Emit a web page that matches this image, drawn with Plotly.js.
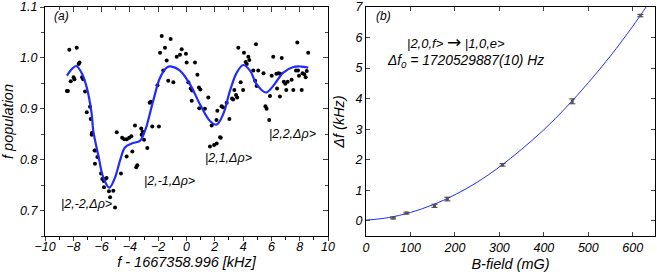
<!DOCTYPE html>
<html>
<head>
<meta charset="utf-8">
<script src="https://cdn.plot.ly/plotly-3.0.1.min.js"></script>
<style>html,body{margin:0;padding:0;background:#fff;}#chart{width:657px;height:272px;}</style>
</head>
<body>
<div id="chart"></div>
<script>
// Panel (a): measured population vs detuning
const freqX = [-8.45,-8.38,-8.28,-8.18,-7.98,-7.92,-7.76,-7.62,-7.56,-7.38,-7.3,-7.17,-7.05,-6.82,-6.77,-6.68,-6.70,-6.50,-6.43,-6.47,-6.30,-6.04,-5.95,-5.85,-5.75,-5.65,-5.83,-5.48,-5.40,-5.17,-5.05,-4.93,-4.63,-4.55,-4.40,-4.22,-4.05,-3.90,-4.23,-3.83,-3.55,-3.48,-3.64,-3.20,-3.17,-3.00,-2.77,-2.60,-2.52,-2.42,-1.95,-2.05,-1.87,-1.75,-1.52,-1.64,-1.40,-1.12,-1.29,-0.93,-0.69,-0.46,-0.34,-0.04,0.01,0.13,0.30,0.40,0.37,0.60,0.77,0.88,0.98,0.90,1.30,1.54,1.78,2.18,2.12,2.37,2.48,2.58,2.84,3.03,3.22,3.30,3.38,3.50,3.58,3.66,3.83,4.00,4.06,4.18,4.26,4.37,4.44,4.72,4.85,4.96,4.91,5.07,5.44,5.58,5.66,5.85,5.90,6.02,6.13,6.35,6.50,6.62,6.40,6.60,6.73,6.88,6.98,7.05,7.15,7.43,7.55,7.74,7.83,7.88,7.95,8.14,8.20,8.32,8.42,8.50,8.60,1.66,1.95,2.13,2.42,-3.10];
const population = [0.935,0.935,1.016,0.954,0.962,0.958,1.020,0.988,0.991,0.962,0.958,0.934,0.893,0.904,0.880,0.853,0.849,0.818,0.818,0.792,0.805,0.773,0.762,0.758,0.762,0.764,0.746,0.738,0.726,0.739,0.706,0.854,0.773,0.843,0.840,0.840,0.843,0.846,0.806,0.816,0.785,0.789,0.867,0.861,0.849,0.839,0.823,0.912,0.914,0.865,0.865,0.946,1.010,1.043,1.020,0.975,0.995,1.037,0.955,0.952,1.002,1.006,1.017,1.008,0.991,0.952,0.940,0.936,0.916,0.991,0.967,0.942,0.938,0.901,0.900,0.922,0.867,0.896,0.878,0.844,0.905,0.903,0.912,0.880,0.920,0.918,0.937,0.927,0.922,1.020,0.952,0.937,1.010,0.992,0.988,1.002,0.996,0.975,0.955,0.945,1.027,0.975,0.970,0.905,0.900,0.878,0.925,0.965,1.002,0.969,0.970,0.969,0.940,0.924,1.000,0.953,0.949,0.937,0.953,0.957,0.937,0.975,1.030,0.975,0.965,0.937,0.970,0.968,0.962,0.974,1.010,0.826,0.829,0.832,0.843,0.855];
// Panel (a): fitted curve
const fitX = [-8.45,-8.1,-7.8,-7.4,-7.05,-6.7,-6.59,-6.23,-5.88,-5.45,-5.05,-4.7,-4.35,-3.87,-3.29,-2.93,-2.81,-2.35,-1.87,-1.4,-1.05,-0.46,0.25,0.95,1.66,2.13,2.6,3.07,3.55,4.01,4.49,4.96,5.62,6.13,6.84,7.55,8.1,8.6];
const fitY = [0.965,0.978,0.984,0.97,0.942,0.89,0.857,0.808,0.765,0.745,0.765,0.798,0.824,0.832,0.837,0.857,0.867,0.916,0.961,0.981,0.983,0.975,0.948,0.909,0.876,0.869,0.89,0.935,0.971,0.986,0.975,0.948,0.932,0.945,0.971,0.982,0.983,0.981];
// Panel (a) labels
const stateLabels = ['|2,-2,Δρ>','|2,-1,Δρ>','|2,1,Δρ>','|2,2,Δρ>'];
const stateLabelX = [-9.0,-3.15,1.17,5.67];
const stateLabelY = [0.712,0.759,0.804,0.851];

// Panel (b): shift vs B-field
const bField = [61, 91, 154, 183, 307, 464, 617];
const deltaF = [0.09, 0.25, 0.49, 0.71, 1.83, 3.91, 6.72];
const deltaFErr = [0.03, 0.03, 0.05, 0.06, 0.04, 0.08, 0.04];
const bFit = [0,50,100,150,200,250,300,350,400,450,500,550,600,630];
const dfFit = [0.02,0.10,0.27,0.52,0.85,1.26,1.76,2.34,2.98,3.71,4.52,5.40,6.37,7.0];

const F = {family:'Liberation Sans, Arial, sans-serif', style:'italic', color:'#000'};
const tickF = Object.assign({}, F, {size:12.5});
const titleF = Object.assign({}, F, {size:14.5});

const traces = [
  {x:freqX, y:population, type:'scatter', mode:'markers', marker:{color:'#000', size:4}, xaxis:'x', yaxis:'y', showlegend:false, hoverinfo:'skip'},
  {x:fitX, y:fitY, type:'scatter', mode:'lines', line:{color:'#1f2bff', width:2.2, shape:'spline', smoothing:1.0}, xaxis:'x', yaxis:'y', showlegend:false},
  {x:[null], y:[null], type:'scatter', mode:'markers', xaxis:'x3', yaxis:'y', showlegend:false},
  {x:[null], y:[null], type:'scatter', mode:'markers', xaxis:'x', yaxis:'y3', showlegend:false},
  {x:bFit, y:dfFit, type:'scatter', mode:'lines', line:{color:'#2030ff', width:1, shape:'spline'}, xaxis:'x2', yaxis:'y2', showlegend:false},
  {x:bField, y:deltaF, type:'scatter', mode:'markers', marker:{color:'#555', size:3, symbol:'square'}, error_y:{type:'data', array:deltaFErr, visible:true, color:'#333', thickness:1, width:3}, xaxis:'x2', yaxis:'y2', showlegend:false}
];

const dom = {xa:[45/657, 328/657], xb:[366/657, 655/657], y:[1-236/272, 1-7/272]};

const layout = {
  width:657, height:272,
  margin:{l:0, r:0, t:0, b:0, autoexpand:false},
  paper_bgcolor:'#fff', plot_bgcolor:'#fff',
  font:F,
  xaxis:{domain:dom.xa, anchor:'y', range:[-10,10], dtick:2, tick0:0, ticks:'outside', ticklen:4, ticklabelstandoff:-5, showline:true, linecolor:'#000', linewidth:1, showgrid:false, zeroline:false, tickfont:tickF,
    minor:{dtick:1, ticks:'outside', ticklen:3, tickcolor:'#000'},
    title:{text:'f - 1667358.996 [kHz]', font:titleF, standoff:3}},
  yaxis:{domain:dom.y, anchor:'x', range:[0.65,1.1], dtick:0.1, tick0:0.7, tickformat:'.1f', ticks:'outside', ticklen:4, showline:true, linecolor:'#000', linewidth:1, showgrid:false, zeroline:false, tickfont:tickF,
    minor:{dtick:0.05, ticks:'outside', ticklen:3},
    title:{text:'f population', font:titleF, standoff:8}},
  xaxis3:{overlaying:'x', side:'top', anchor:'y', range:[-10,10], dtick:2, tick0:0, ticks:'inside', ticklen:5, showline:true, linecolor:'#000', showticklabels:false, showgrid:false, zeroline:false,
    minor:{dtick:1, ticks:'inside', ticklen:3}},
  yaxis3:{overlaying:'y', side:'right', anchor:'x', range:[0.65,1.1], dtick:0.1, tick0:0.7, ticks:'inside', ticklen:5, showline:true, linecolor:'#000', showticklabels:false, showgrid:false, zeroline:false,
    minor:{dtick:0.05, ticks:'inside', ticklen:3}},
  xaxis2:{domain:dom.xb, anchor:'y2', range:[0,650], dtick:100, ticks:'inside', ticklen:4, mirror:'ticks', showline:true, linecolor:'#000', linewidth:1, showgrid:false, zeroline:false, tickfont:tickF,
    title:{text:'B-field (mG)', font:titleF, standoff:4}},
  yaxis2:{domain:dom.y, anchor:'x2', range:[-0.5,7], dtick:1, ticks:'inside', ticklen:4, mirror:'ticks', showline:true, linecolor:'#000', linewidth:1, showgrid:false, zeroline:false, tickfont:tickF,
    title:{text:'Δf (kHz)', font:titleF, standoff:6}},
  annotations:[
    {text:'(a)', xref:'paper', yref:'paper', x:52/657, y:1-16/272, xanchor:'left', yanchor:'middle', showarrow:false, font:Object.assign({},F,{size:12})},
    {text:'(b)', xref:'paper', yref:'paper', x:374/657, y:1-16/272, xanchor:'left', yanchor:'middle', showarrow:false, font:Object.assign({},F,{size:12})},
    {text:'|2,0,f> <span style="font-size:17px;font-style:normal;font-family:DejaVu Sans">\u2192</span> |1,0,e>', xref:'paper', yref:'paper', x:405/657, y:1-42/272, xanchor:'left', yanchor:'middle', showarrow:false, font:Object.assign({},F,{size:13})},
    {text:'\u0394f<sub>0</sub> = 1720529887(10) Hz', xref:'paper', yref:'paper', x:385/657, y:1-62/272, xanchor:'left', yanchor:'middle', showarrow:false, font:Object.assign({},F,{size:13.8})}
  ].concat(stateLabels.map((t,i)=>({text:t, xref:'x', yref:'y', x:stateLabelX[i], y:stateLabelY[i], xanchor:'left', yanchor:'middle', showarrow:false, font:Object.assign({},F,{size:12.5})})))
};

Plotly.newPlot('chart', traces, layout, {staticPlot:true, displayModeBar:false});
</script>
</body>
</html>
